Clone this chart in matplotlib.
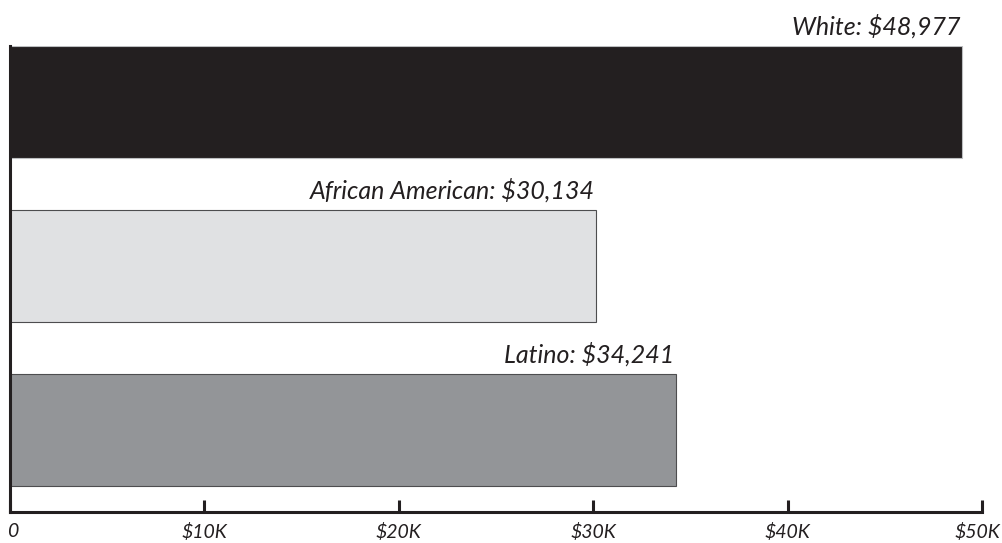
import matplotlib
matplotlib.use("Agg")
import matplotlib.pyplot as plt
from matplotlib.ticker import FixedLocator, FixedFormatter
from matplotlib.transforms import ScaledTranslation

# Median household income by group
groups = ["White", "African American", "Latino"]
incomes = [48977, 30134, 34241]
bar_colors = ["#231f20", "#e0e1e3", "#939598"]
edge_colors = ["#bcbec0", "#4d4d4f", "#4d4d4f"]
tick_values = [0, 10000, 20000, 30000, 40000, 50000]
tick_labels = ["0", "$10K", "$20K", "$30K", "$40K", "$50K"]

ink = "#231f20"
plt.rcParams["font.family"] = ["Lato", "DejaVu Sans"]

fig = plt.figure(figsize=(10.02, 5.43), dpi=100)
ax = fig.add_axes([10 / 1002, 31 / 543, 972 / 1002, 466 / 543])

bar_h = 112 / 164
positions = list(range(len(groups)))
ax.barh(positions, incomes, height=bar_h, color=bar_colors,
        edgecolor=edge_colors, linewidth=0.8, zorder=2)

for pos, name, val in zip(positions, groups, incomes):
    ax.annotate(f"{name}: ${val:,}", xy=(val, pos - bar_h / 2),
                xytext=(-1, 8), textcoords="offset points",
                ha="right", va="baseline", fontsize=18, style="italic",
                color=ink)

ax.set_xlim(0, 50000)
ax.set_ylim(2.5, -bar_h / 2)

for side in ("top", "right"):
    ax.spines[side].set_visible(False)
for side in ("left", "bottom"):
    ax.spines[side].set_linewidth(2.2)
    ax.spines[side].set_color(ink)
    ax.spines[side].set_zorder(3)

ax.set_yticks([])
ax.xaxis.set_major_locator(FixedLocator(tick_values))
ax.xaxis.set_major_formatter(FixedFormatter(tick_labels))
ax.tick_params(axis="x", direction="in", length=8.6, width=2.2, color=ink,
               pad=8, labelsize=14, labelcolor=ink)
labels = ax.get_xticklabels()
for lab in labels:
    lab.set_fontstyle("italic")
# nudge the end labels so they sit inside the canvas
labels[0].set_transform(labels[0].get_transform()
                        + ScaledTranslation(3 / 100, 0, fig.dpi_scale_trans))
labels[-1].set_transform(labels[-1].get_transform()
                         + ScaledTranslation(-5 / 100, 0, fig.dpi_scale_trans))

fig.savefig("out.png", dpi=100)
